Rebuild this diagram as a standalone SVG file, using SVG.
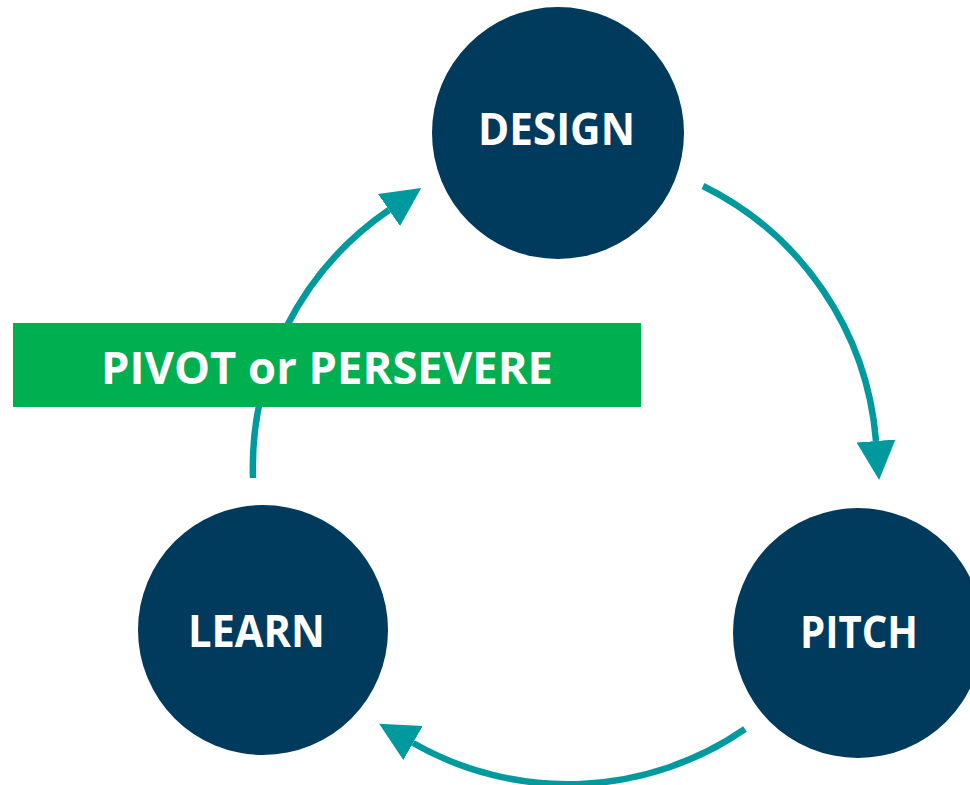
<svg xmlns="http://www.w3.org/2000/svg" width="970" height="785" viewBox="0 0 970 785">
  <style>
    .node { fill: #003A5D; }
    .lbl { fill: #FFFFFF; font-family: "Open Sans", "Liberation Sans", sans-serif; font-weight: bold; font-size: 45px; text-anchor: middle; }
    .conn { fill: none; stroke: #009A9E; stroke-width: 6.5; }
  </style>
  <defs>
    <marker id="arrow" markerUnits="userSpaceOnUse" viewBox="0 -20 40 40" refX="0" refY="0" markerWidth="40" markerHeight="40" orient="auto">
      <path d="M0,-19.5 L39,0 L0,19.5 z" fill="#009A9E"/>
    </marker>
  </defs>
  <rect width="970" height="785" fill="#FFFFFF"/>
  <g id="connectors">
    <path class="conn" d="M703,186 A312,312 0 0 1 876,441" marker-end="url(#arrow)"/>
    <path class="conn" d="M745,729 A312,312 0 0 1 413,743" marker-end="url(#arrow)"/>
    <path class="conn" d="M253,478 A312,312 0 0 1 389,210" marker-end="url(#arrow)"/>
  </g>
  <g id="design">
    <circle class="node" cx="558" cy="133" r="126"/>
    <text class="lbl" x="556.5" y="145" textLength="157" lengthAdjust="spacingAndGlyphs">DESIGN</text>
  </g>
  <g id="pitch">
    <circle class="node" cx="858" cy="633" r="125"/>
    <text class="lbl" x="859" y="648" textLength="118" lengthAdjust="spacingAndGlyphs">PITCH</text>
  </g>
  <g id="learn">
    <circle class="node" cx="263" cy="630" r="125"/>
    <text class="lbl" x="256.5" y="647" textLength="137" lengthAdjust="spacingAndGlyphs">LEARN</text>
  </g>
  <g id="pivot">
    <rect x="13" y="323" width="628" height="84" fill="#00AF50"/>
    <text class="lbl" x="327" y="384" font-size="46" textLength="452" lengthAdjust="spacingAndGlyphs">PIVOT or PERSEVERE</text>
  </g>
</svg>
